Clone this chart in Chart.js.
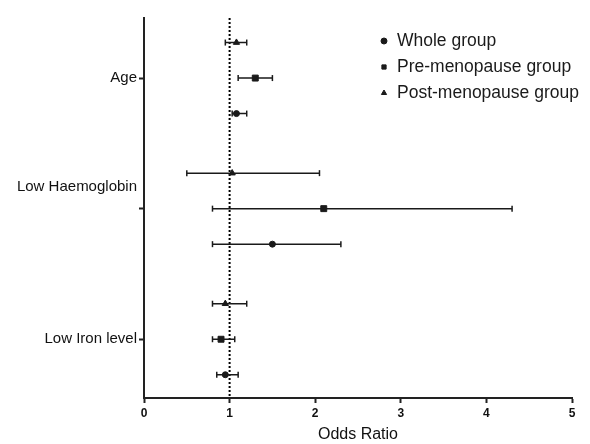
<!DOCTYPE html>
<html>
<head>
<meta charset="utf-8">
<script src="https://cdn.jsdelivr.net/npm/chart.js@4/dist/chart.umd.min.js"></script>
<style>
  html, body { margin: 0; padding: 0; background: #fff; }
  canvas { display: block; }
</style>
</head>
<body>
<canvas id="chart" width="590" height="444"></canvas>
<script>
// categories, top to bottom
const categories = ['Age', 'Low Haemoglobin', 'Low Iron level'];
const groupNames = ['Whole group', 'Pre-menopause group', 'Post-menopause group'];

// odds ratios with 95% CI, one entry per category
const wholeOR = [1.08, 1.50, 0.95];
const wholeLow = [1.03, 0.80, 0.85];
const wholeHigh = [1.20, 2.30, 1.10];

const preOR = [1.30, 2.10, 0.90];
const preLow = [1.10, 0.80, 0.80];
const preHigh = [1.50, 4.30, 1.06];

const postOR = [1.08, 1.03, 0.95];
const postLow = [0.95, 0.50, 0.80];
const postHigh = [1.20, 2.05, 1.20];

const xTicks = [0, 1, 2, 3, 4, 5];
const refOR = 1;

// row layout (category index units)
const yMin = -0.46, yMax = 2.45;
const groupOffsets = [0.272, 0, -0.272];
const groupStyles = ['circle', 'rect', 'triangle'];
const groupRadius = [3, 4.2, 3.6];

const groups = [
  { or: wholeOR, low: wholeLow, high: wholeHigh },
  { or: preOR, low: preLow, high: preHigh },
  { or: postOR, low: postLow, high: postHigh }
];

const ink = '#1a1a1a';
const datasets = [];

groups.forEach((g, k) => {
  const ciData = [];
  categories.forEach((c, i) => {
    const y = i + groupOffsets[k];
    ciData.push({ x: g.low[i], y: y }, { x: g.high[i], y: y }, { x: null, y: null });
  });
  datasets.push({
    label: groupNames[k] + ' CI',
    data: ciData,
    showLine: true,
    spanGaps: false,
    borderColor: ink,
    borderWidth: 1.5,
    pointStyle: 'line',
    rotation: 90,
    pointRadius: 3,
    pointBorderWidth: 1.5,
    pointBorderColor: ink,
    order: 1
  });
  datasets.push({
    label: groupNames[k],
    data: categories.map((c, i) => ({ x: g.or[i], y: i + groupOffsets[k] })),
    pointStyle: groupStyles[k],
    pointRadius: groupRadius[k],
    backgroundColor: ink,
    borderColor: ink,
    borderWidth: 1,
    order: 0
  });
});

// dotted reference line at OR = 1
datasets.push({
  label: 'ref',
  data: [{ x: refOR, y: yMin }, { x: refOR, y: yMax }],
  showLine: true,
  borderColor: '#000',
  borderWidth: 2,
  borderDash: [2, 2],
  pointRadius: 0,
  order: 2
});

const groupLegend = {
  id: 'groupLegend',
  afterDraw(chart) {
    const ctx = chart.ctx;
    ctx.save();
    ctx.fillStyle = ink;
    ctx.strokeStyle = ink;
    ctx.font = '17.5px "Liberation Sans", Arial, sans-serif';
    ctx.textBaseline = 'middle';
    groupNames.forEach((name, i) => {
      const y = 41 + i * 26;
      Chart.helpers.drawPoint(ctx, { pointStyle: groupStyles[i], radius: 3, borderWidth: 1, rotation: 0 }, 384, y);
      ctx.fillText(name, 397, y);
    });
    ctx.restore();
  }
};

new Chart(document.getElementById('chart'), {
  type: 'scatter',
  data: { datasets: datasets },
  plugins: [groupLegend],
  options: {
    responsive: false,
    animation: false,
    layout: { padding: { top: 18, right: 18, left: 0, bottom: 0 } },
    plugins: {
      legend: { display: false },
      tooltip: { enabled: false }
    },
    scales: {
      x: {
        type: 'linear',
        min: 0,
        max: 5,
        afterBuildTicks: (scale) => { scale.ticks = xTicks.map(v => ({ value: v })); },
        afterFit: (scale) => { scale.height = 46; },
        ticks: {
          color: '#111',
          padding: 3,
          font: { family: '"Liberation Sans", Arial, sans-serif', size: 12, weight: 'bold' }
        },
        grid: { drawOnChartArea: false, tickLength: 5, tickWidth: 2, color: '#222' },
        border: { width: 2, color: '#222' },
        title: {
          display: true,
          text: 'Odds Ratio',
          color: '#111',
          padding: { top: 0, bottom: 0 },
          font: { family: '"Liberation Sans", Arial, sans-serif', size: 16 }
        }
      },
      y: {
        type: 'linear',
        reverse: true,
        min: yMin,
        max: yMax,
        afterBuildTicks: (scale) => { scale.ticks = categories.map((c, i) => ({ value: i })); },
        afterFit: (scale) => { scale.width = 144; },
        ticks: {
          color: '#111',
          padding: 2,
          font: { family: '"Liberation Sans", Arial, sans-serif', size: 15, lineHeight: 1.45 },
          // the haemoglobin label sits above its tick in the original
          callback: (v) => v === 1 ? [categories[v], '', ''] : categories[v]
        },
        grid: { drawOnChartArea: false, tickLength: 5, tickWidth: 2, color: '#222' },
        border: { width: 2, color: '#222' }
      }
    }
  }
});
</script>
</body>
</html>
